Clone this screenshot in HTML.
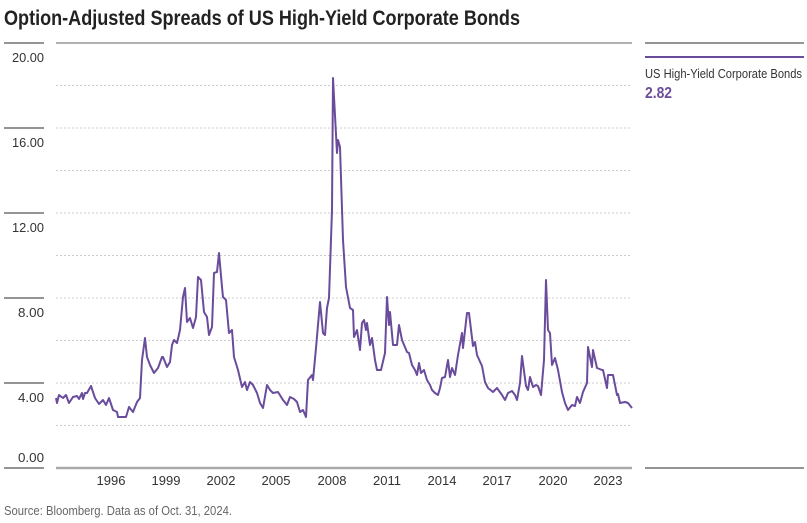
<!DOCTYPE html>
<html><head><meta charset="utf-8"><style>
html,body{margin:0;padding:0;background:#fff;}
svg{display:block;font-family:"Liberation Sans",sans-serif;}
</style></head><body>
<svg width="807" height="523" viewBox="0 0 807 523">
<text x="4" y="25" font-size="21" font-weight="bold" fill="#222" textLength="516" lengthAdjust="spacingAndGlyphs">Option-Adjusted Spreads of US High-Yield Corporate Bonds</text>
<g stroke="#ccc" stroke-dasharray="2,2" stroke-width="1">
<line x1="56" x2="632" y1="85.5" y2="85.5"/><line x1="56" x2="632" y1="128" y2="128"/><line x1="56" x2="632" y1="170.5" y2="170.5"/><line x1="56" x2="632" y1="213" y2="213"/><line x1="56" x2="632" y1="255.5" y2="255.5"/><line x1="56" x2="632" y1="298" y2="298"/><line x1="56" x2="632" y1="340.5" y2="340.5"/><line x1="56" x2="632" y1="383" y2="383"/><line x1="56" x2="632" y1="425.5" y2="425.5"/>
</g>
<line x1="56" y1="43" x2="632" y2="43" stroke="#999" stroke-width="1.5"/>
<line x1="56" y1="468" x2="632" y2="468" stroke="#aaa" stroke-width="2.5"/>
<g stroke="#555" stroke-width="1.3">
<line x1="4" x2="44" y1="43" y2="43"/><line x1="4" x2="44" y1="128" y2="128"/><line x1="4" x2="44" y1="213" y2="213"/><line x1="4" x2="44" y1="298" y2="298"/><line x1="4" x2="44" y1="383" y2="383"/><line x1="4" x2="44" y1="468" y2="468"/>
</g>
<g font-size="13" fill="#333" text-anchor="end">
<text x="44" y="62" textLength="32" lengthAdjust="spacingAndGlyphs">20.00</text>
<text x="44" y="147" textLength="32" lengthAdjust="spacingAndGlyphs">16.00</text>
<text x="44" y="232" textLength="32" lengthAdjust="spacingAndGlyphs">12.00</text>
<text x="44" y="317" textLength="26" lengthAdjust="spacingAndGlyphs">8.00</text>
<text x="44" y="402" textLength="26" lengthAdjust="spacingAndGlyphs">4.00</text>
<text x="44" y="462" textLength="26" lengthAdjust="spacingAndGlyphs">0.00</text>
</g>
<g font-size="13" fill="#333" text-anchor="middle">
<text x="111" y="485">1996</text><text x="166" y="485">1999</text><text x="221" y="485">2002</text><text x="276" y="485">2005</text><text x="332" y="485">2008</text><text x="387" y="485">2011</text><text x="442" y="485">2014</text><text x="497" y="485">2017</text><text x="553" y="485">2020</text><text x="608" y="485">2023</text>
</g>
<text x="4" y="515" font-size="13" fill="#666" textLength="228" lengthAdjust="spacingAndGlyphs">Source: Bloomberg. Data as of Oct. 31, 2024.</text>
<line x1="645" y1="43" x2="804" y2="43" stroke="#555" stroke-width="1.3"/>
<line x1="645" y1="57" x2="804" y2="57" stroke="#6a4c9c" stroke-width="2"/>
<text x="645" y="78" font-size="13" fill="#333" textLength="157" lengthAdjust="spacingAndGlyphs">US High-Yield Corporate Bonds</text>
<text x="645" y="98" font-size="16" font-weight="bold" fill="#6a4c9c" textLength="27" lengthAdjust="spacingAndGlyphs">2.82</text>
<line x1="645" y1="468" x2="804" y2="468" stroke="#555" stroke-width="1.3"/>
<polyline fill="none" stroke="#6a4c9c" stroke-width="2" stroke-linejoin="round" points="56,398 57,403 59,395 63,398 66,395 69,403 73,397 77,396 79,399 82,393 83,399 85,393 87,393 91,386 95,398 99,404 103,400 106,405 109,398 113,410 117,412 118,417 123,417 126,417 129,407 133,412 137,402 140,398 142,360 145,338 147,357 150,365 154,373 158,368 162,357 163,357 167,367 170,362 172,345 174,340 177,343 180,330 183,297 185,288 187,322 190,318 193,328 196,317 198,277 201,280 204,312 207,317 209,335 212,327 214,273 217,272 219,253 222,287 223,297 226,300 229,333 232,330 234,357 238,370 242,387 245,382 247,390 250,382 253,385 257,393 260,403 263,408 267,385 270,390 273,393 278,392 283,400 287,405 290,397 294,399 297,402 300,412 303,410 306,417 308,380 312,375 313,380 316,348 320,302 323,333 325,335 327,308 329,298 332,210 333,78 337,153 338,140 340,147 343,240 346,287 350,308 353,310 354,337 357,330 360,350 362,323 364,320 366,330 367,323 370,345 372,338 375,360 377,370 381,370 385,353 387,297 389,325 390,312 393,345 397,345 399,325 402,340 407,352 409,353 412,365 415,370 417,375 419,363 421,373 424,370 427,380 430,385 432,390 435,393 438,395 440,388 442,378 445,377 448,360 450,377 452,368 455,375 458,355 462,333 463,348 467,313 469,313 473,346 475,342 477,355 482,366 485,382 488,388 493,392 497,388 502,395 505,400 508,393 512,391 515,395 517,400 520,383 522,356 526,386 528,390 530,377 533,387 536,385 538,386 541,395 544,360 546,280 548,330 550,333 552,365 555,358 558,370 562,392 565,403 568,410 572,405 575,406 577,397 580,403 583,392 587,383 588,347 592,367 593,350 597,368 602,370 603,370 607,388 608,375 613,375 617,395 618,394 620,403 625,402 628,403 632,408"/>
</svg>
</body></html>
